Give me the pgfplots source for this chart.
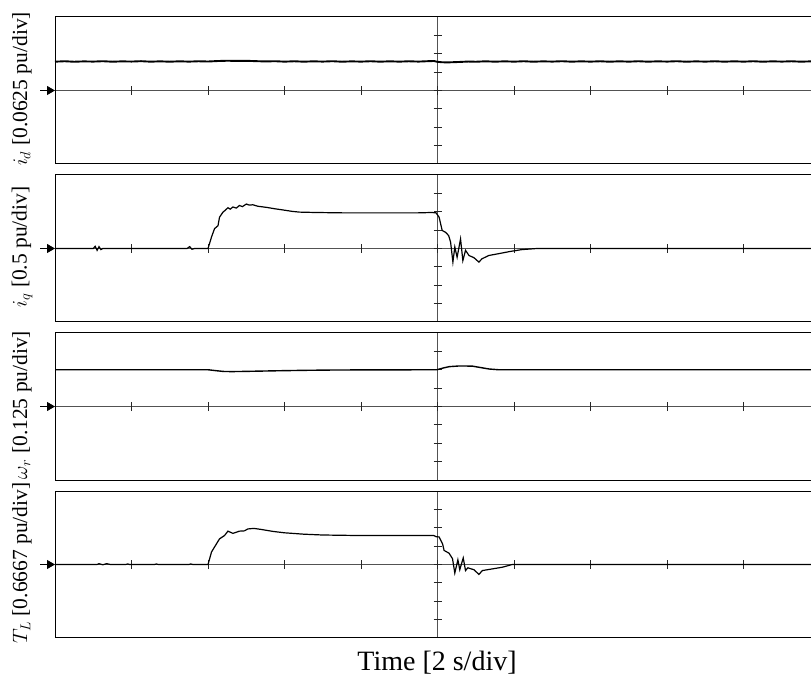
\documentclass[border=0pt]{standalone}
\usepackage{pgfplots}
\pgfplotsset{compat=1.18}
\usepackage{fontspec}
\setmainfont{Liberation Serif}
\usetikzlibrary{arrows.meta}

\tikzset{cl/.style={black!68,line width=1.4pt},
         tk/.style={black!85,line width=0.8pt}}

\def\deco{%
  \draw[cl] (axis cs:0,0) -- (axis cs:19.76,0);
  \draw[cl] ({axis cs:10,0} |- {rel axis cs:0,0}) -- ({axis cs:10,0} |- {rel axis cs:0,1});
  \pgfplotsinvokeforeach{2,4,6,8,10,12,14,16,18}{\draw[tk] (axis cs:##1,0) ++(0pt,-4.5pt) -- ++(0pt,9pt);}
  \pgfplotsinvokeforeach{0.125,0.25,0.375,0.5,0.625,0.75,0.875}{\draw[tk] ({axis cs:10,0} |- {rel axis cs:0,##1}) ++(-4pt,0pt) -- ++(8pt,0pt);}
  \draw[line width=1pt] (rel axis cs:1,1) -- (rel axis cs:0,1) -- (rel axis cs:0,0) -- (rel axis cs:1,0);
  \draw[line width=0.9pt,-{Triangle[length=8pt,width=9pt]}] (rel axis cs:0,0.5) ++(-15pt,0pt) -- (rel axis cs:0,0.5);
}

\pgfplotsset{panel/.style={anchor=north west, scale only axis, width=756pt, height=147pt,
   xmin=0, xmax=19.76, hide axis, clip=false}}

\begin{document}
\begin{tikzpicture}
\path[use as bounding box] (0pt,0pt) rectangle (811pt,-684pt);

% ---------- i_d ----------
\begin{axis}[panel, at={(55pt,-17pt)}, ymin=-0.25, ymax=0.25]
\deco
\addplot[black, line width=1.9pt] coordinates {
(0,0.0980) (0.25,0.0995) (0.5,0.0978) (0.75,0.0990) (1.0,0.0983) (1.25,0.0996) (1.5,0.0979) (1.75,0.0991)
(2.0,0.0984) (2.25,0.0997) (2.5,0.0980) (2.75,0.0992) (3.0,0.0979) (3.25,0.0993) (3.5,0.0982) (3.75,0.0994)
(4.0,0.0986) (4.25,0.1002) (4.5,0.1012) (4.75,0.1006) (5.0,0.1010) (5.25,0.0998) (5.5,0.0988) (5.75,0.0996)
(6.0,0.0981) (6.25,0.0994) (6.5,0.0980) (6.75,0.0992) (7.0,0.0983) (7.25,0.0996) (7.5,0.0979) (7.75,0.0991)
(8.0,0.0982) (8.25,0.0995) (8.5,0.0980) (8.75,0.0993) (9.0,0.0981) (9.25,0.0994) (9.5,0.0983) (9.75,0.0997)
(9.9,0.1003) (10.0,0.0975) (10.1,0.0962) (10.25,0.0955) (10.4,0.0962) (10.6,0.0972) (10.8,0.0985) (11.0,0.0978)
(11.25,0.0993) (11.5,0.0980) (11.75,0.0992) (12.0,0.0981) (12.25,0.0995) (12.5,0.0979) (12.75,0.0991) (13.0,0.0983)
(13.25,0.0996) (13.5,0.0980) (13.75,0.0992) (14.0,0.0982) (14.25,0.0994) (14.5,0.0979) (14.75,0.0993) (15.0,0.0981)
(15.25,0.0995) (15.5,0.0980) (15.75,0.0992) (16.0,0.0983) (16.25,0.0996) (16.5,0.0979) (16.75,0.0991) (17.0,0.0982)
(17.25,0.0994) (17.5,0.0980) (17.75,0.0993) (18.0,0.0981) (18.25,0.0995) (18.5,0.0979) (18.75,0.0992) (19.0,0.0983)
(19.25,0.0994) (19.5,0.0980) (19.76,0.0991)
};
\end{axis}

% ---------- i_q ----------
\begin{axis}[panel, at={(55pt,-175pt)}, ymin=-2, ymax=2]
\deco
\addplot[black, line width=1.2pt] coordinates {
(0,0) (1.0,0) (1.05,0.06) (1.1,-0.05) (1.15,0.05) (1.2,-0.03) (1.25,0) (3.45,0) (3.52,0.05) (3.58,-0.02) (3.65,0)
(4.0,0) (4.09,0.31) (4.17,0.54) (4.26,0.62) (4.30,0.85) (4.39,0.99) (4.45,1.04) (4.52,1.11) (4.58,1.07)
(4.65,1.13) (4.74,1.10) (4.82,1.17) (4.9,1.14) (5.0,1.21) (5.08,1.18) (5.17,1.19) (5.3,1.15) (5.52,1.12)
(5.75,1.08) (5.95,1.05) (6.2,1.01) (6.39,0.99) (6.8,0.98) (7.5,0.97) (8.5,0.97) (9.5,0.97) (9.85,0.98)
(9.96,0.97) (10.04,0.85) (10.12,0.49) (10.21,0.44) (10.29,0.35) (10.34,0.17) (10.40,-0.37) (10.45,0.04)
(10.51,-0.24) (10.60,0.26) (10.66,-0.33) (10.73,-0.05) (10.82,-0.19) (10.95,-0.25) (11.08,-0.37) (11.16,-0.28)
(11.34,-0.19) (11.6,-0.14) (11.9,-0.08) (12.2,-0.03) (12.6,0) (19.76,0)
};
\end{axis}

% ---------- omega_r ----------
\begin{axis}[panel, at={(55pt,-333pt)}, ymin=-0.5, ymax=0.5]
\deco
\addplot[black, line width=1.4pt] coordinates {
(0,0.25) (4.0,0.25) (4.2,0.244) (4.4,0.2385) (4.6,0.2375) (4.8,0.238) (5.2,0.240) (5.8,0.243) (6.5,0.246)
(7.2,0.248) (8,0.249) (9.98,0.25) (10.15,0.262) (10.3,0.271) (10.55,0.2755) (10.9,0.275) (11.1,0.266)
(11.35,0.255) (11.6,0.25) (19.76,0.25)
};
\end{axis}

% ---------- T_L ----------
\begin{axis}[panel, at={(55pt,-491pt)}, ymin=-2.6668, ymax=2.6668]
\deco
\addplot[black, line width=1.2pt] coordinates {
(0,0) (1.1,0) (1.15,0.03) (1.25,-0.01) (1.35,0.03) (1.45,0) (1.85,0) (1.9,0.02) (1.95,0) (2.6,0) (2.65,0.02) (2.7,0)
(3.5,0) (3.55,0.02) (3.6,0) (4.0,0) (4.09,0.45) (4.22,0.75) (4.30,0.93) (4.43,1.05) (4.52,1.21) (4.65,1.13)
(4.82,1.21) (4.95,1.22) (5.04,1.29) (5.2,1.31) (5.4,1.27) (5.7,1.2) (6.0,1.15) (6.5,1.1) (7.0,1.07) (8,1.05)
(9.9,1.05) (9.96,1.01) (10.04,1.0) (10.13,0.75) (10.17,0.51) (10.30,0.41) (10.39,0.21) (10.45,-0.31)
(10.53,0.17) (10.58,-0.19) (10.67,0.24) (10.73,-0.22) (10.79,-0.12) (10.95,-0.19) (11.08,-0.36) (11.17,-0.22)
(11.43,-0.16) (11.69,-0.1) (11.95,0) (19.76,0)
};
\end{axis}

\node[rotate=90] at (22pt,-89pt) {\fontsize{21.5}{24}\selectfont $i_d$ [0.0625 pu/div]};
\node[rotate=90] at (22pt,-247pt) {\fontsize{21.5}{24}\selectfont $i_q$ [0.5 pu/div]};
\node[rotate=90] at (22pt,-405pt) {\fontsize{21.5}{24}\selectfont $\omega_r$ [0.125 pu/div]};
\node[rotate=90] at (22pt,-563pt) {\fontsize{21.5}{24}\selectfont $T_L$ [0.6667 pu/div]};
\node at (437pt,-663pt) {\fontsize{28}{32}\selectfont Time [2 s/div]};
\end{tikzpicture}
\end{document}
